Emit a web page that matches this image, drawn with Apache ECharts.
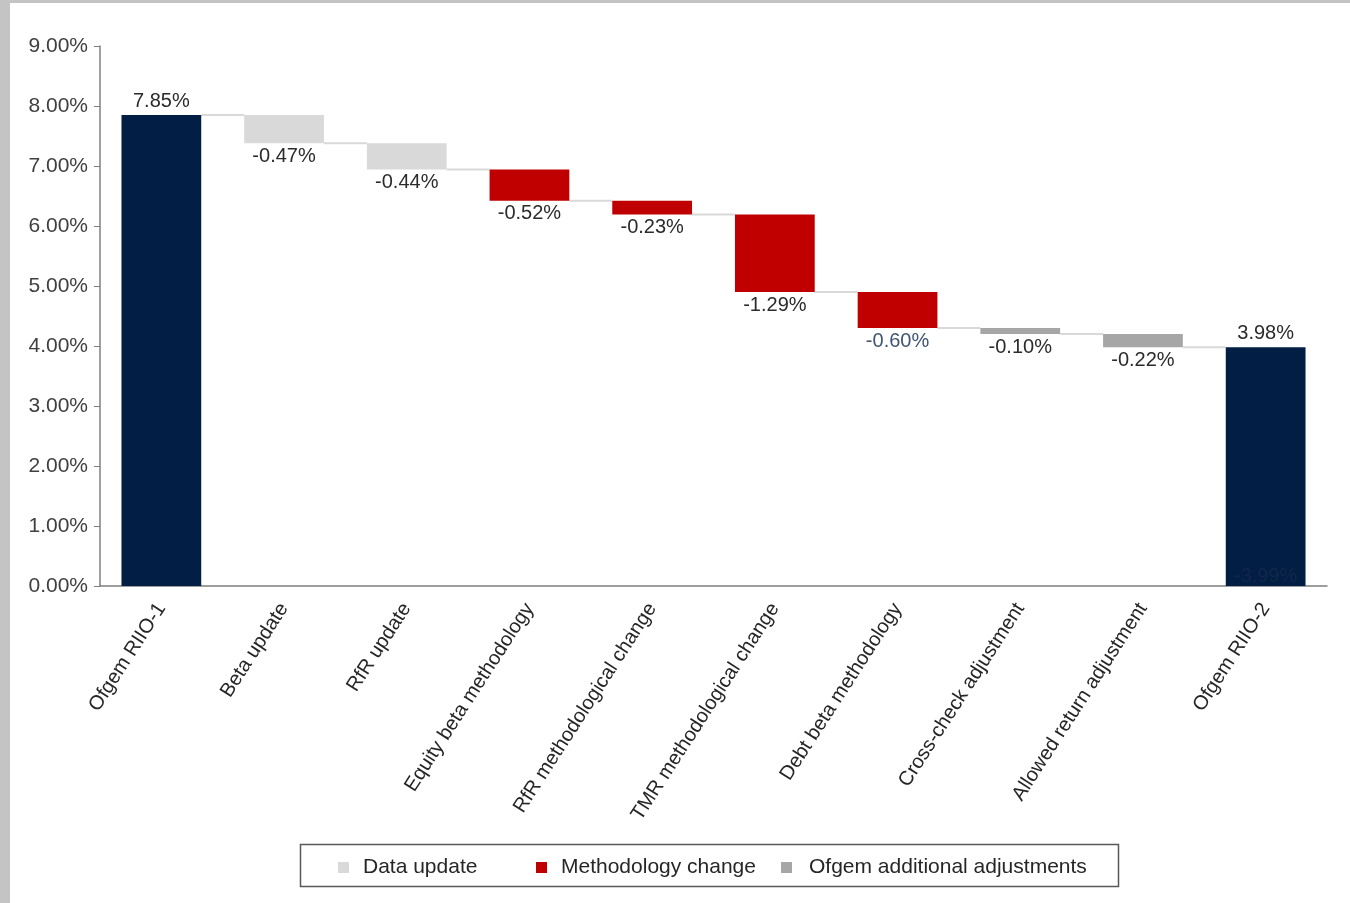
<!DOCTYPE html>
<html><head><meta charset="utf-8">
<script src="https://cdn.jsdelivr.net/npm/echarts@6/dist/echarts.min.js"></script>
<style>
html,body{margin:0;padding:0;width:1350px;height:903px;background:#c4c4c4;overflow:hidden}
#c{position:absolute;left:10px;top:3px;width:1340px;height:900px;background:#fff}
</style></head><body><div id="c"></div>
<script>
const categories = ['Ofgem RIIO-1','Beta update','RfR update','Equity beta methodology','RfR methodological change','TMR methodological change','Debt beta methodology','Cross-check adjustment','Allowed return adjustment','Ofgem RIIO-2'];
const startValue = 7.85;
const deltas = [-0.47,-0.44,-0.52,-0.23,-1.29,-0.60,-0.10,-0.22];
const endValue = 3.98;
const endArtifactLabel = '-3.99%';
const kinds = ['total','data','data','method','method','method','method','adj','adj','total'];
const yTicks = [0,1,2,3,4,5,6,7,8,9];

const r2 = v => Math.round(v*100)/100;
const levels = [startValue];
deltas.forEach(d => levels.push(r2(levels[levels.length-1] + d)));
const n = categories.length;
const base = [], totalS = [], dataS = [], methS = [], adjS = [];
for (let i = 0; i < n; i++) {
  let b, v;
  if (i === 0) { v = startValue; b = 0; }
  else if (i === n-1) { v = endValue; b = 0; }
  else { const d = deltas[i-1]; b = r2(levels[i-1] + Math.min(d,0)); v = r2(Math.abs(d)); }
  base.push(b);
  totalS.push(kinds[i]==='total' ? v : '-');
  dataS.push(kinds[i]==='data' ? v : '-');
  methS.push(kinds[i]==='method' ? v : '-');
  adjS.push(kinds[i]==='adj' ? v : '-');
}
const fmtPct = v => v.toFixed(2) + '%';
const FONT = 'Liberation Sans';
const FS = 20;
const labelColor = '#2b2b2b';
const deltaLabel = {
  show: true, position: 'bottom', distance: 3, fontFamily: FONT, fontSize: FS, color: labelColor,
  formatter: p => fmtPct(deltas[p.dataIndex-1])
};
function deltaData(arr){
  return arr.map((v,i)=> (v!=='-' && i===6) ? {value:v, label:{color:'#3f5573'}} : v);
}
const connectorData = levels.map((l,i)=>[i,l]);

const chart = echarts.init(document.getElementById('c'));
const barWidthPct = 0.65;
const legendText = {fontSize:21, color:'#262626', fontFamily: FONT, padding:[0,0,0,9]};
chart.setOption({
  animation: false,
  textStyle: {fontFamily: FONT},
  grid: {left: 90, top: 43, width: 1227, height: 540, containLabel: false},
  xAxis: {
    type: 'category', data: categories,
    axisLine: {lineStyle: {color: '#7f7f7f', width: 1.5}},
    axisTick: {show: false},
    axisLabel: {rotate: 57, fontSize: FS, color: '#262626', fontFamily: FONT, margin: 19, interval: 0}
  },
  yAxis: {
    type: 'value', min: 0, max: 9, interval: 1,
    splitLine: {show: false},
    axisLine: {show: true, lineStyle: {color: '#7f7f7f', width: 1.5}},
    axisTick: {show: true, length: 6, lineStyle: {color: '#7f7f7f'}},
    axisLabel: {fontSize: 21, color: '#404040', fontFamily: FONT, margin: 12,
      formatter: v => yTicks.includes(v) ? fmtPct(v) : ''}
  },
  legend: [
    {data:['Data update'], left: 323, top: 849, itemWidth: 11, itemHeight: 11, icon: 'rect', textStyle: legendText},
    {data:['Methodology change'], left: 521, top: 849, itemWidth: 11, itemHeight: 11, icon: 'rect', textStyle: legendText},
    {data:['Ofgem additional adjustments'], left: 766, top: 849, itemWidth: 11, itemHeight: 11, icon: 'rect',
     textStyle: Object.assign({}, legendText, {padding:[0,0,0,12]})}
  ],
  graphic: [{type:'rect', left: 288, top: 839, shape:{width: 818, height: 42},
    style:{fill:'none', stroke:'#595959', lineWidth: 1.5}, silent: true}],
  series: [
    {name:'base', type:'bar', stack:'w', data: base, barCategoryGap: '35%',
     itemStyle:{color:'transparent'}, silent:true},
    {name:'Total', type:'bar', stack:'w', data: totalS,
     itemStyle:{color:'#021e44'},
     label:{show:true, position:'top', distance: 4, fontFamily: FONT, fontSize: FS, color: labelColor,
       formatter: p => fmtPct(p.value)}},
    {name:'Data update', type:'bar', stack:'w', data: dataS, itemStyle:{color:'#d9d9d9'}, label: deltaLabel},
    {name:'Methodology change', type:'bar', stack:'w', data: deltaData(methS), itemStyle:{color:'#c00000'}, label: deltaLabel},
    {name:'Ofgem additional adjustments', type:'bar', stack:'w', data: adjS, itemStyle:{color:'#a6a6a6'}, label: deltaLabel},
    {name:'connector', type:'custom', data: connectorData, silent:true, z: 1,
     renderItem: (params, api) => {
       const p = api.coord([api.value(0), api.value(1)]);
       const w = api.size([1,0])[0];
       const hb = w*barWidthPct/2;
       return {type:'line', shape:{x1:p[0]+hb, y1:p[1], x2:p[0]+w-hb, y2:p[1]},
         style:{stroke:'#d9d9d9', lineWidth:2}};
     }},
    {name:'artifact', type:'scatter', data:[[n-1, 0]], symbolSize: 0, silent:true, z: 5,
     label:{show:true, position:'top', distance: 0, fontFamily: FONT, fontSize: FS, color:'#16294a',
       formatter: () => endArtifactLabel}}
  ]
});
</script></body></html>
